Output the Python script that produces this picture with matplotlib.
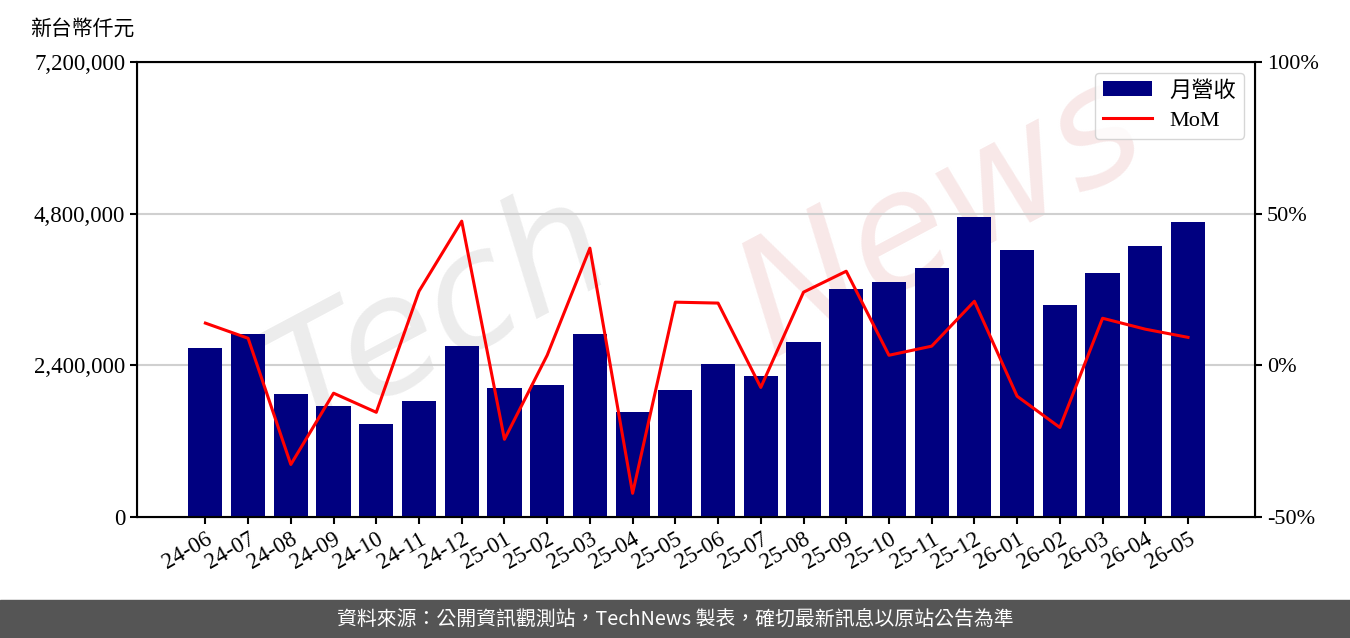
import matplotlib.pyplot as plt
import matplotlib.ticker as mticker
import numpy as np

plt.rcParams['font.family'] = ['Liberation Serif', 'Noto Sans CJK TC', 'DejaVu Sans']

# Monthly revenue (NT$ thousand) and month-over-month change (%)
months = ['24-06', '24-07', '24-08', '24-09', '24-10', '24-11', '24-12',
          '25-01', '25-02', '25-03', '25-04', '25-05', '25-06', '25-07',
          '25-08', '25-09', '25-10', '25-11', '25-12', '26-01', '26-02',
          '26-03', '26-04', '26-05']
revenue = [2674000, 2896000, 1946000, 1756000, 1472000, 1836000, 2706000,
           2041000, 2089000, 2896000, 1662000, 2010000, 2421000, 2231000,
           2769000, 3608000, 3719000, 3940000, 4747000, 4225000, 3355000,
           3861000, 4288000, 4668000]
mom = [13.9, 8.9, -32.7, -9.2, -15.5, 24.4, 47.5,
       -24.4, 3.3, 38.6, -42.2, 20.8, 20.5, -7.3,
       24.1, 31.0, 3.3, 6.3, 21.1, -10.2, -20.5,
       15.5, 11.9, 9.2]

fig = plt.figure(figsize=(13.5, 6.38), dpi=100)
ax = fig.add_axes([0.1015, 0.1897, 0.8282, 0.7133])
ax2 = ax.twinx()

x = np.arange(len(months))

# watermark
ax.text(0.27, 0.44, 'Tech', transform=ax.transAxes, fontsize=115, color='#ececec',
        rotation=28, ha='center', va='center', style='italic',
        family='DejaVu Sans', zorder=0)
ax.text(0.72, 0.66, 'News', transform=ax.transAxes, fontsize=115, color='#f8e8e8',
        rotation=28, ha='center', va='center', style='italic',
        family='DejaVu Sans', zorder=0)

ax.bar(x, revenue, width=0.8, color='#000080', label='月營收', zorder=2)
ax.set_ylim(0, 7200000)
ax.set_yticks([0, 2400000, 4800000, 7200000])
ax.yaxis.set_major_formatter(mticker.FuncFormatter(lambda v, p: f'{int(v):,}'))
ax.grid(axis='y', color='#d0d0d0', linewidth=1.5, zorder=1)
ax.set_axisbelow(True)
ax.set_xlim(-1.6, len(months) - 1 + 1.57)
ax.set_xticks(x)
ax.set_xticklabels(months, rotation=30, ha='right', rotation_mode='anchor')
ax.tick_params(axis='both', labelsize=16.5, width=1.5, length=5)
for s in ax.spines.values():
    s.set_linewidth(1.5)

ax2.plot(x, mom, color='#ff0000', linewidth=2.2, label='MoM', zorder=3)
ax2.set_ylim(-50, 100)
ax2.set_yticks([-50, 0, 50, 100])
ax2.yaxis.set_major_formatter(mticker.FuncFormatter(lambda v, p: f'{int(v)}%'))
ax2.tick_params(axis='y', labelsize=16, width=1.5, length=5)

h1, l1 = ax.get_legend_handles_labels()
h2, l2 = ax2.get_legend_handles_labels()
leg = ax2.legend(h1 + h2, l1 + l2, loc='upper right', fontsize=16,
                 handlelength=2.2, borderpad=0.35, labelspacing=0.4)

fig.text(0.022, 0.955, '新台幣仟元', fontsize=15, family=['Noto Sans CJK TC'],
         ha='left', va='center')

# footer band
fig.patches.append(plt.Rectangle((0, 0), 1, 0.06, transform=fig.transFigure,
                                 color='#555555', zorder=0))
fig.text(0.5, 0.03, '資料來源：公開資訊觀測站，TechNews 製表，確切最新訊息以原站公告為準',
         color='white', fontsize=14.3, family=['Noto Sans CJK TC'],
         ha='center', va='center')

fig.savefig('out.png', dpi=100)
